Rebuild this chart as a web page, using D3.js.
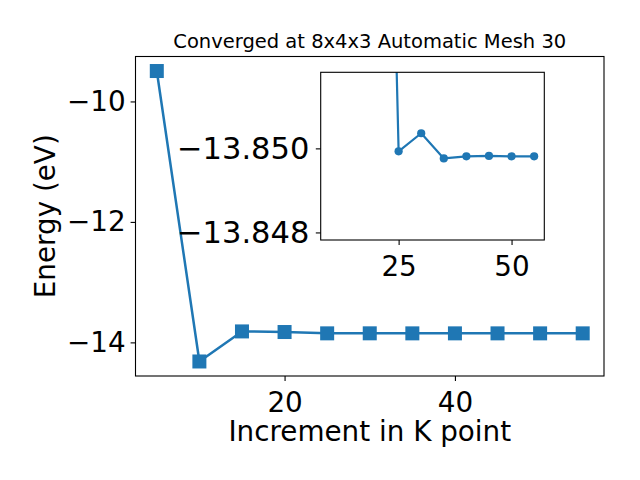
<!DOCTYPE html>
<html>
<head>
<meta charset="utf-8">
<script src="https://cdn.jsdelivr.net/npm/d3@7"></script>
<style>
  html, body { margin: 0; padding: 0; background: #fff; }
  svg { display: block; font-family: "DejaVu Sans", sans-serif; }
</style>
</head>
<body>
<svg id="chart" width="640" height="480"></svg>
<script>
// ---- data ----
const kPoints = [5, 10, 15, 20, 25, 30, 35, 40, 45, 50, 55];
const energies = [-9.495, -14.317, -13.818, -13.828, -13.85007, -13.84964, -13.85024, -13.85019, -13.85018, -13.85019, -13.85019];
const xTicks = [20, 40];
const yTicks = [-10, -12, -14];
const insetStartK = 20;
const insetXLimits = [7.75, 57.25];
const insetXTicks = [25, 50];
const insetYTicks = [-13.850, -13.852];
const insetYTickLabels = ["−13.850", "−13.848"];
const insetYLimits = [-13.85218, -13.84819];
const titleText = "Converged at 8x4x3 Automatic Mesh 30";
const xLabel = "Increment in K point";
const yLabel = "Energy (eV)";

const color = "#1f77b4";
const svg = d3.select("#chart");
const minus = s => String(s).replace("-", "−");

// ---- main axes ----
const M = { left: 135.5, right: 604, top: 56.5, bottom: 376 };
const xExt = d3.extent(kPoints), yExt = d3.extent(energies);
const xPad = (xExt[1] - xExt[0]) * 0.05, yPad = (yExt[1] - yExt[0]) * 0.05;
const x = d3.scaleLinear().domain([xExt[0] - xPad, xExt[1] + xPad]).range([M.left, M.right]);
const y = d3.scaleLinear().domain([yExt[0] - yPad, yExt[1] + yPad]).range([M.bottom, M.top]);

function styleAxis(g, size) {
  g.select(".domain").remove();
  g.selectAll(".tick line").attr("stroke", "#000").attr("stroke-width", 1.1);
  g.selectAll(".tick text").attr("fill", "#000").attr("font-size", size).attr("font-family", "DejaVu Sans");
}

svg.append("g").attr("transform", `translate(0,${M.bottom})`)
  .call(d3.axisBottom(x).tickValues(xTicks).tickSize(4.9).tickPadding(4.9).tickFormat(d => minus(d)))
  .call(g => styleAxis(g, 27.8))
  .call(g => g.selectAll(".tick text").attr("dy", "0.95em"));

svg.append("g").attr("transform", `translate(${M.left},0)`)
  .call(d3.axisLeft(y).tickValues(yTicks).tickSize(4.9).tickPadding(4.9).tickFormat(d => minus(d)))
  .call(g => styleAxis(g, 27.8));

const pts = kPoints.map((k, i) => [k, energies[i]]);
const line = d3.line().x(d => x(d[0])).y(d => y(d[1]));
svg.append("path").datum(pts).attr("d", line).attr("fill", "none")
  .attr("stroke", color).attr("stroke-width", 2.5).attr("stroke-linejoin", "round");
const ms = 14;
svg.append("g").selectAll("rect").data(pts).join("rect")
  .attr("x", d => x(d[0]) - ms / 2).attr("y", d => y(d[1]) - ms / 2)
  .attr("width", ms).attr("height", ms).attr("fill", color);

svg.append("rect").attr("x", M.left).attr("y", M.top)
  .attr("width", M.right - M.left).attr("height", M.bottom - M.top)
  .attr("fill", "none").attr("stroke", "#000").attr("stroke-width", 1.1);

// labels
svg.append("text").attr("x", (M.left + M.right) / 2).attr("y", 48)
  .attr("text-anchor", "middle").attr("font-size", 19.5).text(titleText);
svg.append("text").attr("x", (M.left + M.right) / 2).attr("y", 441)
  .attr("text-anchor", "middle").attr("font-size", 27.8).text(xLabel);
svg.append("text").attr("transform", `translate(55,${(M.top + M.bottom) / 2}) rotate(-90)`)
  .attr("text-anchor", "middle").attr("font-size", 27.8).text(yLabel);

// ---- inset ----
const I = { left: 320.7, right: 544.3, top: 72.3, bottom: 240 };
const insetPts = pts.filter(d => d[0] >= insetStartK);
const ix = d3.scaleLinear().domain(insetXLimits).range([I.left, I.right]);
const iy = d3.scaleLinear().domain(insetYLimits).range([I.bottom, I.top]);

svg.append("rect").attr("x", I.left).attr("y", I.top)
  .attr("width", I.right - I.left).attr("height", I.bottom - I.top).attr("fill", "#fff");

svg.append("clipPath").attr("id", "clipInset").append("rect")
  .attr("x", I.left).attr("y", I.top).attr("width", I.right - I.left).attr("height", I.bottom - I.top);

const gi = svg.append("g").attr("clip-path", "url(#clipInset)");
const iline = d3.line().x(d => ix(d[0])).y(d => iy(d[1]));
gi.append("path").datum(insetPts).attr("d", iline).attr("fill", "none")
  .attr("stroke", color).attr("stroke-width", 2.2).attr("stroke-linejoin", "round");
gi.selectAll("circle").data(insetPts).join("circle")
  .attr("cx", d => ix(d[0])).attr("cy", d => iy(d[1])).attr("r", 4.1).attr("fill", color);

svg.append("g").attr("transform", `translate(0,${I.bottom})`)
  .call(d3.axisBottom(ix).tickValues(insetXTicks).tickSize(4.9).tickPadding(4.9))
  .call(g => styleAxis(g, 27.8))
  .call(g => g.selectAll(".tick text").attr("dy", "0.95em"));

svg.append("g").attr("transform", `translate(${I.left},0)`)
  .call(d3.axisLeft(iy).tickValues(insetYTicks).tickSize(4.9).tickPadding(6.5)
    .tickFormat((d, i) => insetYTickLabels[i]))
  .call(g => styleAxis(g, 30.5));

svg.append("rect").attr("x", I.left).attr("y", I.top)
  .attr("width", I.right - I.left).attr("height", I.bottom - I.top)
  .attr("fill", "none").attr("stroke", "#000").attr("stroke-width", 1.1);
</script>
</body>
</html>
